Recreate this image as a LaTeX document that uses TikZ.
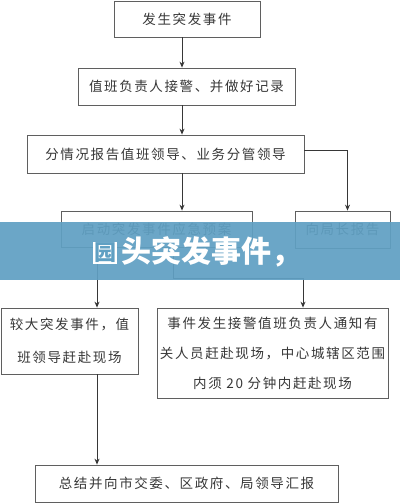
\documentclass[tikz,border=0pt]{standalone}
\usepackage{fontspec}
\newfontfamily\cjk[LetterSpace=12]{Noto Sans CJK SC}
\newfontfamily\cjkban{Noto Sans CJK SC}
\usetikzlibrary{arrows.meta}
\definecolor{band}{RGB}{96,160,195}
\definecolor{ink}{RGB}{55,55,55}
\definecolor{frame}{RGB}{95,95,95}
\begin{document}
\begin{tikzpicture}[x=1pt,y=-1pt,
 box/.style={draw=frame, line width=0.8pt, fill=white, text=ink, font=\cjk\fontsize{13.5}{16}\selectfont, align=center, inner sep=0pt},
 conn/.style={draw=ink, line width=0.9pt},
 arr/.style={conn, -{Stealth[length=6pt,width=5pt]}}]
\path[use as bounding box] (0,0) rectangle (400,504);
\fill[white] (0,0) rectangle (400,504);
\node[box, minimum width=146pt, minimum height=36pt] (b1) at (187,19) {发生突发事件};
\node[box, minimum width=217pt, minimum height=37pt] (b2) at (186.5,86.5) {值班负责人接警、并做好记录};
\node[box, minimum width=277pt, minimum height=38pt] (b3) at (165.5,154) {分情况报告值班领导、业务分管领导};
\node[box, minimum width=191pt, minimum height=36pt] (b4) at (156.5,229) {启动突发事件应急预案};
\node[box, minimum width=95pt, minimum height=37pt] (b5) at (342.5,229.5) {向局长报告};
\node[box, minimum width=137pt, minimum height=66pt] (b6) at (69.5,341) {较大突发事件，值\\[17pt]班领导赶赴现场};
\node[box, minimum width=231pt, minimum height=90pt] (b7) at (272.5,353) {事件发生接警值班负责人通知有\\[14pt]关人员赶赴现场，中心城辖区范围\\[14pt]内须 20 分钟内赶赴现场};
\node[box, minimum width=303pt, minimum height=37pt] (b8) at (186.5,483.5) {总结并向市交委、区政府、局领导汇报};
\coordinate (sp) at (182,0);
\coordinate (rx) at (347.5,0);
\coordinate (ry) at (0,150);
\coordinate (lx) at (97,0);
\coordinate (mx) at (173,0);
\coordinate (hy) at (0,278);
\coordinate (rx2) at (303,0);
\draw[arr] (b1.south -| sp) -- (b2.north -| sp);
\draw[arr] (b2.south -| sp) -- (b3.north -| sp);
\draw[arr] (b3.south -| sp) -- (b4.north -| sp);
\draw[arr] (b3.east |- ry) -- (ry -| rx) -- (b5.north -| rx);
\draw[arr] (b4.south -| lx) -- (b6.north -| lx);
\draw[arr] (b4.south -| mx) -- (hy -| mx) -- (hy -| rx2) -- (b7.north -| rx2);
\draw[arr] (b6.south -| lx) -- (b8.north -| lx);
\fill[band, opacity=0.93] (0,222) rectangle (400,280);
\node[fill=white, text=band, inner sep=0pt, minimum width=24pt, minimum height=22pt, font=\cjkban\bfseries\fontsize{22}{22}\selectfont] (yuan) at (105,252.5) {园};
\node[anchor=west, text=white, inner sep=0pt, font=\cjkban\bfseries\fontsize{30}{30}\selectfont] (ban) at (121,252) {头突发事件，};
\end{tikzpicture}
\end{document}
